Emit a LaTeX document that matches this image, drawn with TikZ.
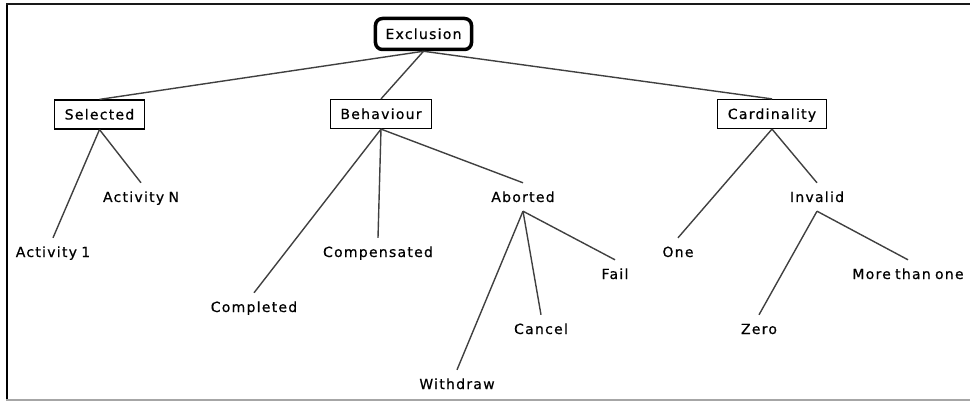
\documentclass[tikz,border=0pt]{standalone}
\usepackage{fontspec}
\newfontfamily\treefont{DejaVu Sans}[LetterSpace=9,WordSpace=0.75,FakeBold=0.6]
\begin{document}
\begin{tikzpicture}[x=1pt,y=-1pt,
  every node/.style={font=\treefont\fontsize{14pt}{16pt}\selectfont,
    text height=10pt,text depth=0pt},
  rootbox/.style={draw=black,line width=3.5pt,rounded corners=7pt,
    inner xsep=10pt,minimum height=31pt},
  catbox/.style={draw=black,line width=1.2pt,inner xsep=10pt,minimum height=29pt},
  leaf/.style={inner xsep=2pt,inner ysep=9pt,anchor=base},
  branch/.style={draw=black!75,line width=1.4pt}]
\useasboundingbox (0,0) rectangle (970,401);
% frame
\draw[black,line width=2.5pt] (7,4) -- (7,401);
\draw[black!90,line width=2pt] (6,4) -- (970,4);
\draw[black!35,line width=1.5pt] (6,400) -- (970,400);

% root and categories
\node[rootbox] (excl) at (423.5,34) {Exclusion};
\node[catbox] (sel) at (99.5,114.5) {Selected};
\node[catbox] (beh) at (381,114) {Behaviour};
\node[catbox] (card) at (772,114) {Cardinality};

% leaves
\node[leaf] (actn) at (141,202) {Activity N};
\node[leaf] (act1) at (53,257) {Activity 1};
\node[leaf] (compl) at (254,312) {Completed};
\node[leaf] (comp) at (378,257) {Compensated};
\node[leaf] (abrt) at (523,202) {Aborted};
\node[leaf] (withd) at (457,389) {Withdraw};
\node[leaf] (canc) at (541,334) {Cancel};
\node[leaf] (fail) at (615,279) {Fail};
\node[leaf] (one) at (678,257) {One};
\node[leaf] (inval) at (817,202) {Invalid};
\node[leaf] (zero) at (759,334) {Zero};
\node[leaf] (more) at (908,279) {More than one};

% connectors
\draw[branch] (excl.south) -- (sel.north);
\draw[branch] (excl.south) -- (beh.north);
\draw[branch] (excl.south) -- (card.north);

\draw[branch] (sel.south) -- (actn.north);
\draw[branch] (sel.south) -- (act1.north);

\draw[branch] (beh.south) -- (compl.north);
\draw[branch] (beh.south) -- (comp.north);
\draw[branch] (beh.south) -- (abrt.north);

\draw[branch] (abrt.south) -- (withd.north);
\draw[branch] (abrt.south) -- (canc.north);
\draw[branch] (abrt.south) -- (fail.north);

\draw[branch] (card.south) -- (one.north);
\draw[branch] (card.south) -- (inval.north);

\draw[branch] (inval.south) -- (zero.north);
\draw[branch] (inval.south) -- (more.north);
\end{tikzpicture}
\end{document}
